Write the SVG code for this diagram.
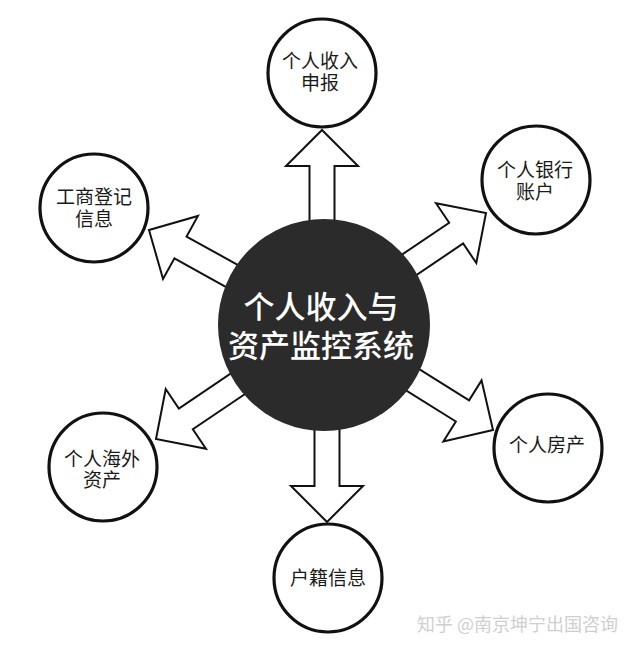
<svg xmlns="http://www.w3.org/2000/svg" xmlns:xlink="http://www.w3.org/1999/xlink" width="640" height="651" viewBox="0 0 640 651">
<style>
.ring{fill:#fff;stroke:#111;stroke-width:3.2}
.arrow{fill:#fff;stroke:#111;stroke-width:2;stroke-linejoin:miter}
.lbl{font-family:"Noto Sans CJK SC","Noto Sans",sans-serif;font-size:19px;fill:#1a1a1a;text-anchor:middle}
.hub{font-family:"Noto Sans CJK SC","Noto Sans",sans-serif;font-size:31px;fill:#fff;text-anchor:middle;font-weight:500}
.wm{font-family:"Noto Sans CJK SC","Noto Sans",sans-serif;font-size:18px;fill:#cfcfcf}
</style>
<defs>
<path id="arr" d="M0,0 L36,36 L12.5,36 L12.5,125 L-12.5,125 L-12.5,36 L-36,36 Z"/>
</defs>
<rect width="640" height="651" fill="#fff"/>
<g id="connectors" class="arrow">
<use xlink:href="#arr" transform="translate(322,130) rotate(0)"/>
<use xlink:href="#arr" transform="translate(486,213) rotate(56)"/>
<use xlink:href="#arr" transform="translate(149,230) rotate(-61)"/>
<use xlink:href="#arr" transform="translate(156,439) rotate(-124)"/>
<use xlink:href="#arr" transform="translate(493,430) rotate(122)"/>
<use xlink:href="#arr" transform="translate(327,522) rotate(180)"/>
</g>
<g id="hub">
<circle cx="324" cy="325" r="106" fill="#2b2b2b"/>
<text class="hub"><tspan x="321" y="318">个人收入与</tspan><tspan x="321" y="357">资产监控系统</tspan></text>
</g>
<g id="node-income">
<circle class="ring" cx="322" cy="73" r="54"/>
<text class="lbl"><tspan x="320" y="68">个人收入</tspan><tspan x="320" y="90">申报</tspan></text>
</g>
<g id="node-bank">
<circle class="ring" cx="536" cy="180" r="54"/>
<text class="lbl"><tspan x="535" y="177">个人银行</tspan><tspan x="535" y="199">账户</tspan></text>
</g>
<g id="node-business">
<circle class="ring" cx="94" cy="208" r="54"/>
<text class="lbl"><tspan x="94" y="204">工商登记</tspan><tspan x="94" y="226">信息</tspan></text>
</g>
<g id="node-overseas">
<circle class="ring" cx="103" cy="467" r="54"/>
<text class="lbl"><tspan x="102" y="466">个人海外</tspan><tspan x="102" y="487">资产</tspan></text>
</g>
<g id="node-house">
<circle class="ring" cx="548" cy="448" r="54"/>
<text class="lbl" x="547" y="452">个人房产</text>
</g>
<g id="node-household">
<circle class="ring" cx="328" cy="578" r="54"/>
<text class="lbl" x="328" y="585">户籍信息</text>
</g>
<text class="wm" x="417" y="631">知乎 @南京坤宁出国咨询</text>
</svg>
